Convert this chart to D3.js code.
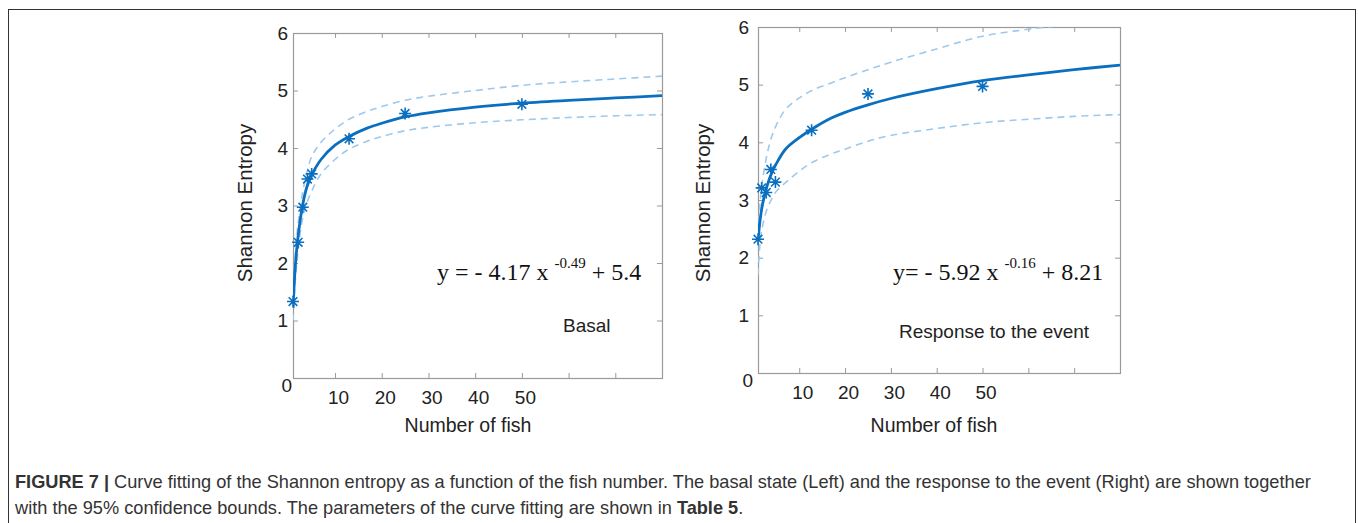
<!DOCTYPE html>
<html>
<head>
<meta charset="utf-8">
<script src="https://cdn.jsdelivr.net/npm/d3@7"></script>
<style>
  body { margin: 0; background: #fff; }
  svg { display: block; }
  .tick line { stroke: #9a9a9a; }
  .tick text { font-family: "Liberation Sans", Arial, sans-serif; font-size: 19px; fill: #222; }
</style>
</head>
<body>
<div id="chart"></div>
<script>
const fitX = [1, 1.5, 2, 3, 4, 5, 7, 10, 13, 17, 20, 25, 30, 40, 50, 60, 70, 80];

// Basal state (left)
const basalFit   = [1.22, 1.95, 2.40, 2.98, 3.33, 3.53, 3.80, 4.05, 4.20, 4.35, 4.43, 4.54, 4.61, 4.71, 4.78, 4.83, 4.87, 4.91];
const basalUpper = [1.45, 2.15, 2.62, 3.20, 3.58, 3.85, 4.10, 4.33, 4.50, 4.64, 4.72, 4.83, 4.90, 5.00, 5.09, 5.15, 5.20, 5.25];
const basalLower = [1.00, 1.70, 2.15, 2.75, 3.05, 3.25, 3.55, 3.80, 3.98, 4.12, 4.20, 4.30, 4.36, 4.44, 4.49, 4.53, 4.56, 4.58];
const basalPtsX  = [1, 2.1, 3.1, 4.1, 5, 13, 25, 50];
const basalPtsY  = [1.33, 2.36, 2.97, 3.46, 3.55, 4.16, 4.60, 4.76];

// Response to the event (right)
const respFit   = [2.30, 2.68, 2.93, 3.25, 3.47, 3.63, 3.88, 4.08, 4.24, 4.42, 4.52, 4.65, 4.76, 4.93, 5.07, 5.17, 5.26, 5.34];
const respUpper = [2.40, 3.00, 3.35, 3.80, 4.10, 4.30, 4.57, 4.77, 4.91, 5.03, 5.12, 5.26, 5.39, 5.62, 5.84, 5.96, 6.05, 6.13];
const respLower = [1.70, 2.30, 2.55, 2.85, 3.02, 3.15, 3.30, 3.50, 3.66, 3.80, 3.88, 4.02, 4.12, 4.24, 4.34, 4.40, 4.45, 4.48];
const respPtsX  = [1, 1.8, 2.8, 3.8, 4.8, 12.7, 25, 50];
const respPtsY  = [2.32, 3.21, 3.13, 3.53, 3.31, 4.21, 4.84, 4.97];

// axis ticks
const xTicks = [10, 20, 30, 40, 50, 60, 70];
const xLabelled = [10, 20, 30, 40, 50];
const yTicks = [0, 1, 2, 3, 4, 5, 6];

const panels = [
  {
    id: "basal", fit: basalFit, upper: basalUpper, lower: basalLower, px: basalPtsX, py: basalPtsY,
    eq: ["y = - 4.17 x ", "-0.49", " + 5.4"], tag: "Basal",
    box: {left: 293, right: 662, top: 33, bottom: 378},
    yTitleX: 252, xTitleX: 468, eqX: 437, tagX: 563, tagY: 332, yPad: 5
  },
  {
    id: "response", fit: respFit, upper: respUpper, lower: respLower, px: respPtsX, py: respPtsY,
    eq: ["y= - 5.92 x ", "-0.16", " + 8.21"], tag: "Response to the event",
    box: {left: 758, right: 1120, top: 27, bottom: 373},
    yTitleX: 710, xTitleX: 934, eqX: 893, tagX: 899, tagY: 338, yPad: 9
  }
];

const blue = "#0b6fc0";
const lightBlue = "#9ec9ee";

const svg = d3.select("#chart").append("svg")
  .attr("width", 1358)
  .attr("height", 523);

// outer figure frame
svg.append("rect")
  .attr("x", 8.5).attr("y", 9.5)
  .attr("width", 1347).attr("height", 540)
  .attr("fill", "none").attr("stroke", "#333").attr("stroke-width", 1);

panels.forEach(p => {
  const b = p.box;
  const x = d3.scaleLinear().domain([1, 80]).range([b.left, b.right]);
  const y = d3.scaleLinear().domain([0, 6]).range([b.bottom, b.top]);
  const g = svg.append("g").attr("class", "panel-" + p.id);

  // clip to plot area
  g.append("clipPath").attr("id", "clip-" + p.id)
    .append("rect")
    .attr("x", b.left).attr("y", b.top)
    .attr("width", b.right - b.left).attr("height", b.bottom - b.top);

  // axes with inward ticks
  const bottom = g.append("g")
    .attr("transform", `translate(0,${b.bottom})`)
    .call(d3.axisBottom(x).tickValues(xTicks).tickSize(-5).tickPadding(13)
      .tickFormat(d => xLabelled.includes(d) ? d : ""));
  bottom.selectAll(".tick text").attr("dx", 3);

  g.append("g")
    .attr("transform", `translate(0,${b.top})`)
    .call(d3.axisTop(x).tickValues(xTicks).tickSize(-5).tickFormat(""));

  const left = g.append("g")
    .attr("transform", `translate(${b.left},0)`)
    .call(d3.axisLeft(y).tickValues(yTicks).tickSize(-5).tickPadding(p.yPad).tickFormat(d3.format("d")));
  left.selectAll(".tick")
    .filter(d => d === 0)
    .select("text").attr("dx", 4).attr("dy", "0.7em");
  left.selectAll(".tick")
    .filter(d => d === 0 || d === 6)
    .select("line").remove();

  g.append("g")
    .attr("transform", `translate(${b.right},0)`)
    .call(d3.axisRight(y).tickValues(yTicks.filter(d => d > 0 && d < 6)).tickSize(-5).tickFormat(""));

  g.selectAll(".domain").remove();

  // plot box
  g.append("rect")
    .attr("x", b.left + 0.5).attr("y", b.top + 0.5)
    .attr("width", b.right - b.left).attr("height", b.bottom - b.top)
    .attr("fill", "none").attr("stroke", "#9a9a9a").attr("stroke-width", 1.2);

  const line = d3.line()
    .x((d, i) => x(fitX[i]))
    .y(d => y(d))
    .curve(d3.curveCatmullRom.alpha(0.5));

  const curves = g.append("g").attr("clip-path", `url(#clip-${p.id})`);

  // 95% confidence bounds
  [p.upper, p.lower].forEach(bound => {
    curves.append("path")
      .datum(bound)
      .attr("d", line)
      .attr("fill", "none")
      .attr("stroke", lightBlue)
      .attr("stroke-width", 1.6)
      .attr("stroke-dasharray", "7,5");
  });

  // fitted curve
  curves.append("path")
    .datum(p.fit)
    .attr("d", line)
    .attr("fill", "none")
    .attr("stroke", blue)
    .attr("stroke-width", 2.8);

  // asterisk markers
  const r = 6;
  const star = d3.path();
  star.moveTo(-r, 0); star.lineTo(r, 0);
  star.moveTo(0, -r); star.lineTo(0, r);
  const rd = r * 0.72;
  star.moveTo(-rd, -rd); star.lineTo(rd, rd);
  star.moveTo(-rd, rd); star.lineTo(rd, -rd);

  g.selectAll(".marker")
    .data(p.px.map((v, i) => [v, p.py[i]]))
    .enter().append("path")
    .attr("class", "marker")
    .attr("transform", d => `translate(${x(d[0])},${y(d[1])})`)
    .attr("d", star.toString())
    .attr("fill", "none")
    .attr("stroke", blue)
    .attr("stroke-width", 1.6);

  // axis titles
  g.append("text")
    .attr("x", p.xTitleX)
    .attr("y", 432)
    .attr("text-anchor", "middle")
    .style("font-family", "Liberation Sans, Arial, sans-serif")
    .style("font-size", "19.5px")
    .attr("fill", "#222")
    .text("Number of fish");

  g.append("text")
    .attr("transform", `translate(${p.yTitleX},203) rotate(-90)`)
    .attr("text-anchor", "middle")
    .style("font-family", "Liberation Sans, Arial, sans-serif")
    .style("font-size", "20.5px")
    .attr("fill", "#222")
    .text("Shannon Entropy");

  // fitted equation
  const eq = g.append("text")
    .attr("x", p.eqX).attr("y", 280)
    .style("font-family", "Liberation Serif, Times New Roman, serif")
    .style("font-size", "24px")
    .attr("fill", "#111");
  eq.append("tspan").text(p.eq[0]);
  eq.append("tspan").attr("dy", -12).style("font-size", "15px").text(p.eq[1]);
  eq.append("tspan").attr("dy", 12).text(p.eq[2]);

  g.append("text")
    .attr("x", p.tagX).attr("y", p.tagY)
    .style("font-family", "Liberation Sans, Arial, sans-serif")
    .style("font-size", "19px")
    .attr("fill", "#222")
    .text(p.tag);
});

// caption
const caption = svg.append("text")
  .attr("x", 15)
  .style("font-family", "Liberation Sans, Arial, sans-serif")
  .style("font-size", "18.2px")
  .attr("fill", "#333");
const l1 = caption.append("tspan").attr("x", 15).attr("y", 488);
l1.append("tspan").style("font-weight", "bold").text("FIGURE 7 | ");
l1.append("tspan").text("Curve fitting of the Shannon entropy as a function of the fish number. The basal state (Left) and the response to the event (Right) are shown together");
const l2 = caption.append("tspan").attr("x", 15).attr("y", 514);
l2.append("tspan").text("with the 95% confidence bounds. The parameters of the curve fitting are shown in ");
l2.append("tspan").style("font-weight", "bold").text("Table 5");
l2.append("tspan").text(".");
</script>
</body>
</html>
